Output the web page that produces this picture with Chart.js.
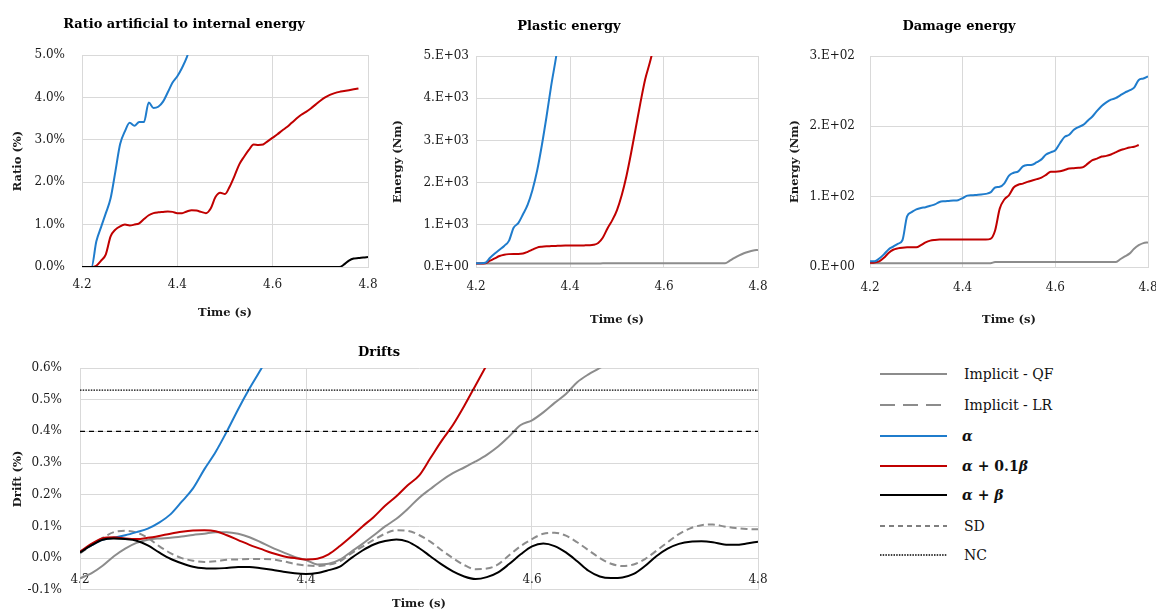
<!DOCTYPE html>
<html>
<head>
<meta charset="utf-8">
<script src="https://cdn.jsdelivr.net/npm/chart.js@4.4.1/dist/chart.umd.min.js"></script>
<style>
  html, body { margin: 0; padding: 0; background: #fff; width: 1156px; height: 610px; overflow: hidden; }
  body { position: relative; }
  canvas { position: absolute; }
  .leg-row { position: absolute; left: 880px; height: 20px; width: 260px; }
  .leg-row svg { position: absolute; left: 0; top: 0; }
  .leg-text { position: absolute; left: 84px; top: 0; line-height: 20px; font-family: 'DejaVu Serif', serif; font-size: 14px; color: #111; white-space: nowrap; }
  .leg-text.math { left: 82px; font-weight: bold; }
</style>
</head>
<body>
<canvas id="ratioChart"></canvas>
<canvas id="plasticChart"></canvas>
<canvas id="damageChart"></canvas>
<canvas id="driftChart"></canvas>
<div id="legend"></div>

<script>
// --- data: time axis (s) ---
const times = [4.20, 4.21, 4.22, 4.23, 4.24, 4.25, 4.26, 4.27, 4.28, 4.29,
  4.30, 4.31, 4.32, 4.33, 4.34, 4.35, 4.36, 4.37, 4.38, 4.39,
  4.40, 4.41, 4.42, 4.43, 4.44, 4.45, 4.46, 4.47, 4.48, 4.49,
  4.50, 4.51, 4.52, 4.53, 4.54, 4.55, 4.56, 4.57, 4.58, 4.59,
  4.60, 4.61, 4.62, 4.63, 4.64, 4.65, 4.66, 4.67, 4.68, 4.69,
  4.70, 4.71, 4.72, 4.73, 4.74, 4.75, 4.76, 4.77, 4.78, 4.79, 4.80];

const xTickValues = [4.2, 4.4, 4.6, 4.8];
const xTickLabels = ['4.2', '4.4', '4.6', '4.8'];

// Ratio artificial to internal energy (%)
const ratioAlpha = [0, 0, 0, 0.6, 0.94, 1.27, 1.62, 2.25, 2.9, 3.2,
  3.4, 3.33, 3.42, 3.42, 3.88, 3.75, 3.78, 3.9, 4.12, 4.35,
  4.5, 4.7, 4.95, 5.3, 5.6];
const ratioAlphaBeta01 = [0, 0, 0, 0.03, 0.15, 0.3, 0.72, 0.88, 0.96, 1.0,
  0.98, 1.0, 1.03, 1.13, 1.22, 1.27, 1.29, 1.3, 1.31, 1.3,
  1.27, 1.27, 1.31, 1.34, 1.33, 1.3, 1.27, 1.38, 1.65, 1.75,
  1.72, 1.9, 2.15, 2.42, 2.6, 2.76, 2.89, 2.88, 2.89, 2.97,
  3.05, 3.13, 3.22, 3.3, 3.4, 3.5, 3.59, 3.66, 3.74, 3.83,
  3.92, 4.0, 4.06, 4.1, 4.13, 4.15, 4.17, 4.19, 4.21];
const ratioAlphaBeta = [0, 0, 0, 0, 0, 0, 0, 0, 0, 0,
  0, 0, 0, 0, 0, 0, 0, 0, 0, 0,
  0, 0, 0, 0, 0, 0, 0, 0, 0, 0,
  0, 0, 0, 0, 0, 0, 0, 0, 0, 0,
  0, 0, 0, 0, 0, 0, 0, 0, 0, 0,
  0, 0, 0, 0, 0, 0.06, 0.15, 0.2, 0.21, 0.225, 0.235];
const ratioTickValues = [0, 1, 2, 3, 4, 5];
const ratioTickLabels = ['0.0%', '1.0%', '2.0%', '3.0%', '4.0%', '5.0%'];

// Plastic energy (Nm)
const plasticAlpha = [90, 90, 100, 220, 320, 410, 500, 620, 930, 1040,
  1250, 1480, 1820, 2280, 2880, 3560, 4300, 4950, 5700];
const plasticAlphaBeta01 = [85, 85, 90, 150, 205, 260, 290, 305, 310, 310,
  320, 360, 410, 460, 480, 490, 495, 500, 505, 508,
  510, 510, 510, 512, 515, 525, 570, 700, 920, 1110,
  1350, 1700, 2150, 2700, 3300, 3900, 4450, 4850, 5300];
const plasticQF = [80, 80, 80, 80, 80, 80, 80, 80, 80, 80,
  80, 80, 80, 80, 80, 80, 80, 80, 80, 80,
  80, 80, 80, 80, 80, 80, 80, 88, 88, 88,
  88, 88, 88, 88, 88, 88, 88, 88, 88, 88,
  88, 88, 88, 88, 88, 88, 88, 88, 88, 88,
  88, 88, 88, 88, 150, 215, 275, 325, 362, 390, 405];
const plasticTickValues = [0, 1000, 2000, 3000, 4000, 5000];
const plasticTickLabels = ['0.E+00', '1.E+03', '2.E+03', '3.E+03', '4.E+03', '5.E+03'];

// Damage energy (Nm)
const damageAlpha = [8, 8, 12, 18, 25, 29, 33, 38, 72, 78,
  82, 84, 85, 87, 89, 92.5, 93.5, 94, 94.5, 95,
  98, 101.5, 102, 102.5, 103, 104, 106, 113, 114, 119,
  130, 134, 136, 143, 145, 145.5, 149, 153, 160, 163,
  166, 176, 185, 188, 195, 199, 202, 208, 214, 222,
  229, 234, 238, 240, 244, 248, 251, 255, 266, 268, 271];
const damageAlphaBeta01 = [6, 6.5, 8, 13, 20, 24.5, 26.5, 27.5, 28, 28,
  28, 31, 35, 37.5, 38.5, 39, 39, 39, 39, 39,
  39, 39, 39, 39, 39, 39, 40, 52, 83, 96,
  102, 113, 117, 118.5, 121, 123, 125, 127, 131, 135.5,
  135.5, 136, 138, 140, 140.5, 141, 142, 147, 152, 154,
  157, 158, 160, 163, 166, 168, 170, 171, 173.5];
const damageQF = [5.5, 5.5, 5.5, 5.5, 5.5, 5.5, 5.5, 5.5, 5.5, 5.5,
  5.5, 5.5, 5.5, 5.5, 5.5, 5.5, 5.5, 5.5, 5.5, 5.5,
  5.5, 5.5, 5.5, 5.5, 5.5, 5.5, 5.5, 7, 7, 7,
  7, 7, 7, 7, 7, 7, 7, 7, 7, 7,
  7, 7, 7, 7, 7, 7, 7, 7, 7, 7,
  7, 7, 7, 7, 11, 15, 19, 26, 31, 34, 35];
const damageTickValues = [0, 100, 200, 300];
const damageTickLabels = ['0.E+00', '1.E+02', '2.E+02', '3.E+02'];

// Drifts (%)
const driftQF = [-0.064, -0.048, -0.024, 0.006, 0.03, 0.048, 0.058, 0.062, 0.064, 0.068,
  0.073, 0.077, 0.082, 0.082, 0.077, 0.066, 0.05, 0.033, 0.018, 0.004,
  -0.006, -0.02, -0.018, -0.005, 0.02, 0.045, 0.072, 0.1, 0.124, 0.155,
  0.19, 0.218, 0.245, 0.268, 0.286, 0.305, 0.326, 0.352, 0.385, 0.42,
  0.435, 0.46, 0.49, 0.518, 0.555, 0.58, 0.60, 0.625];
const driftLR = [0.015, 0.04, 0.064, 0.082, 0.086, 0.081, 0.064, 0.038, 0.016, 0.0,
  -0.008, -0.012, -0.01, -0.005, -0.004, -0.003, -0.003, -0.004, -0.01, -0.018,
  -0.023, -0.025, -0.021, -0.01, 0.015, 0.036, 0.058, 0.077, 0.088, 0.086,
  0.073, 0.052, 0.025, 0.0, -0.022, -0.035, -0.033, -0.02, 0.01, 0.038,
  0.06, 0.077, 0.08, 0.071, 0.05, 0.025, 0.0, -0.018, -0.025, -0.02,
  -0.003, 0.023, 0.05, 0.076, 0.094, 0.104, 0.106, 0.1, 0.095, 0.092, 0.091];
const driftAlpha = [0.02, 0.04, 0.058, 0.064, 0.072, 0.082, 0.093, 0.112, 0.138, 0.178,
  0.22, 0.28, 0.335, 0.40, 0.47, 0.535, 0.595, 0.66];
const driftAlphaBeta01 = [0.02, 0.045, 0.063, 0.066, 0.062, 0.06, 0.064, 0.07, 0.077, 0.083,
  0.087, 0.088, 0.085, 0.072, 0.057, 0.042, 0.029, 0.016, 0.006, 0.0,
  -0.004, -0.002, 0.012, 0.038, 0.068, 0.1, 0.13, 0.165, 0.195, 0.23,
  0.26, 0.315, 0.37, 0.42, 0.48, 0.545, 0.61];
const driftAlphaBeta = [0.018, 0.04, 0.058, 0.062, 0.06, 0.055, 0.04, 0.018, -0.002, -0.016,
  -0.027, -0.032, -0.033, -0.031, -0.028, -0.028, -0.032, -0.037, -0.043, -0.048,
  -0.05, -0.047, -0.038, -0.027, 0.0, 0.024, 0.043, 0.054, 0.059, 0.052,
  0.032, 0.006, -0.02, -0.042, -0.058, -0.066, -0.06, -0.045, -0.018, 0.012,
  0.037, 0.046, 0.038, 0.018, -0.01, -0.04, -0.058, -0.063, -0.061, -0.05,
  -0.025, 0.006, 0.03, 0.045, 0.052, 0.053, 0.05, 0.043, 0.042, 0.046, 0.052];
const limitTimes = [4.2, 4.8];
const limitSD = [0.4, 0.4];
const limitNC = [0.53, 0.53];
const driftTickValues = [-0.1, 0, 0.1, 0.2, 0.3, 0.4, 0.5, 0.6];
const driftTickLabels = ['-0.1%', '0.0%', '0.1%', '0.2%', '0.3%', '0.4%', '0.5%', '0.6%'];

// --- styles ---
const COLORS = { qf: '#8c8c8c', lr: '#8c8c8c', alpha: '#1f7ccc', alpha01: '#c00000', alphaBeta: '#000000', limit: '#000000' };
const GRID = '#d9d9d9';
const TEXT = '#1a1a1a';
const FONT = "'DejaVu Serif', serif";

Chart.defaults.font.family = FONT;
Chart.defaults.color = TEXT;

function pts(values, xs) {
  const src = xs || times;
  return values.map((v, i) => ({ x: src[i], y: v }));
}

function series(label, values, color, extra) {
  return Object.assign({
    label,
    data: pts(values),
    borderColor: color,
    backgroundColor: color,
    borderWidth: 2,
    pointRadius: 0,
    cubicInterpolationMode: 'monotone',
    fill: false
  }, extra || {});
}

// 配置を固定するため軸サイズは afterFit で上書き
function makeChart(cfg) {
  const canvas = document.getElementById(cfg.id);
  canvas.width = cfg.w;
  canvas.height = cfg.h;
  canvas.style.left = cfg.left + 'px';
  canvas.style.top = cfg.top + 'px';

  const xScale = {
    type: 'linear',
    min: 4.2,
    max: 4.8,
    afterBuildTicks: s => { s.ticks = xTickValues.map(v => ({ value: v })); },
    afterFit: s => { s.height = cfg.xHeight; },
    grid: { color: GRID, lineWidth: 1, drawTicks: false },
    border: { display: true, color: GRID },
    ticks: { font: { size: 12 }, padding: cfg.xTickPad, maxRotation: 0, autoSkip: false, color: TEXT,
      callback: (v, i) => xTickLabels[i] },
    title: { display: true, text: 'Time (s)', font: { size: 11.5, weight: 'bold' }, color: TEXT,
      padding: { top: 0, bottom: cfg.xTitlePad } }
  };
  if (cfg.xPosition) xScale.position = cfg.xPosition;

  return new Chart(canvas.getContext('2d'), {
    type: 'line',
    data: { datasets: cfg.datasets },
    options: {
      responsive: false,
      animation: false,
      devicePixelRatio: 1,
      layout: { padding: { left: 0, right: cfg.padRight, top: 0, bottom: cfg.padBottom || 0 } },
      plugins: {
        legend: { display: false },
        tooltip: { enabled: false },
        title: {
          display: true, text: cfg.title, color: '#000',
          font: { size: 13, weight: 'bold' },
          padding: { top: cfg.titlePadTop, bottom: cfg.titlePadBottom }
        }
      },
      scales: {
        x: xScale,
        y: {
          type: 'linear',
          min: cfg.yMin,
          max: cfg.yMax,
          afterBuildTicks: s => { s.ticks = cfg.yTicks.map(v => ({ value: v })); },
          afterFit: s => { s.width = cfg.yWidth; },
          grid: { color: GRID, lineWidth: 1, drawTicks: false },
          border: { display: true, color: GRID },
          ticks: { font: { size: 12 }, padding: cfg.yTickPad, color: TEXT,
            callback: (v, i) => cfg.yLabels[i] },
          title: { display: true, text: cfg.yTitle, font: { size: 11.5, weight: 'bold' }, color: TEXT,
            padding: { top: cfg.yTitlePad, bottom: 0 } }
        }
      }
    }
  });
}

makeChart({
  id: 'ratioChart', left: 0, top: 0, w: 420, h: 330, padRight: 52,
  title: 'Ratio artificial to internal energy', titlePadTop: 17, titlePadBottom: 22.4,
  yWidth: 82, yTickPad: 17, yTitle: 'Ratio (%)', yTitlePad: 11,
  xHeight: 63, xTickPad: 11, xTitlePad: 10,
  yMin: 0, yMax: 5, yTicks: ratioTickValues, yLabels: ratioTickLabels,
  datasets: [
    series('α + β', ratioAlphaBeta, COLORS.alphaBeta),
    series('α + 0.1β', ratioAlphaBeta01, COLORS.alpha01),
    series('α', ratioAlpha, COLORS.alpha)
  ]
});

makeChart({
  id: 'plasticChart', left: 380, top: 0, w: 448, h: 330, padRight: 70,
  title: 'Plastic energy', titlePadTop: 19, titlePadBottom: 21.4,
  yWidth: 96, yTickPad: 7, yTitle: 'Energy (Nm)', yTitlePad: 11,
  xHeight: 63, xTickPad: 13, xTitlePad: 3,
  yMin: 0, yMax: 5000, yTicks: plasticTickValues, yLabels: plasticTickLabels,
  datasets: [
    series('α', plasticAlpha, COLORS.alpha),
    series('α + 0.1β', plasticAlphaBeta01, COLORS.alpha01),
    series('Implicit - QF', plasticQF, COLORS.qf)
  ]
});

makeChart({
  id: 'damageChart', left: 770, top: 0, w: 473, h: 330, padRight: 95,
  title: 'Damage energy', titlePadTop: 19, titlePadBottom: 21.4,
  yWidth: 100, yTickPad: 15, yTitle: 'Energy (Nm)', yTitlePad: 18,
  xHeight: 63, xTickPad: 14, xTitlePad: 3,
  yMin: 0, yMax: 300, yTicks: damageTickValues, yLabels: damageTickLabels,
  datasets: [
    series('α', damageAlpha, COLORS.alpha),
    series('α + 0.1β', damageAlphaBeta01, COLORS.alpha01),
    series('Implicit - QF', damageQF, COLORS.qf)
  ]
});

const driftDatasets = [
  series('NC', limitNC, COLORS.limit, { data: pts(limitNC, limitTimes), borderWidth: 1.3, borderDash: [1.5, 1.2], cubicInterpolationMode: 'default' }),
  series('SD', limitSD, COLORS.limit, { data: pts(limitSD, limitTimes), borderWidth: 1.2, borderDash: [5, 4], cubicInterpolationMode: 'default' }),
  series('α + β', driftAlphaBeta, COLORS.alphaBeta),
  series('α + 0.1β', driftAlphaBeta01, COLORS.alpha01),
  series('α', driftAlpha, COLORS.alpha),
  series('Implicit - LR', driftLR, COLORS.lr, { borderDash: [7, 4] }),
  series('Implicit - QF', driftQF, COLORS.qf)
];

// x 軸は 0% の位置に置く（Excel と同じ交差位置）
makeChart({
  id: 'driftChart', left: 0, top: 330, w: 800, h: 285, padRight: 42, padBottom: 0,
  title: 'Drifts', titlePadTop: 15, titlePadBottom: 7.4,
  yWidth: 80, yTickPad: 18, yTitle: 'Drift (%)', yTitlePad: 11,
  xHeight: 60, xTickPad: 15, xTitlePad: 7, xPosition: { y: 0 },
  yMin: -0.1, yMax: 0.6, yTicks: driftTickValues, yLabels: driftTickLabels,
  datasets: driftDatasets
});

// --- legend (HTML) ---
const legendItems = [
  { text: 'Implicit - QF', color: COLORS.qf, width: 2, dash: '' },
  { text: 'Implicit - LR', color: COLORS.lr, width: 2, dash: '15 8' },
  { html: '<i>α</i>', color: COLORS.alpha, width: 2, dash: '' },
  { html: '<i>α</i> + 0.1<i>β</i>', color: COLORS.alpha01, width: 2, dash: '' },
  { html: '<i>α</i> + <i>β</i>', color: COLORS.alphaBeta, width: 2, dash: '' },
  { text: 'SD', color: COLORS.limit, width: 1.2, dash: '5 4' },
  { text: 'NC', color: COLORS.limit, width: 1.3, dash: '1.5 1.2' }
];
const legendRowsY = [374, 405, 436, 466, 495, 526, 555];

const legend = document.getElementById('legend');
legendItems.forEach((item, i) => {
  const row = document.createElement('div');
  row.className = 'leg-row';
  row.style.top = (legendRowsY[i] - 10) + 'px';
  row.innerHTML =
    `<svg width="70" height="20"><line x1="0" y1="10" x2="67" y2="10" stroke="${item.color}" stroke-width="${item.width}" stroke-dasharray="${item.dash}"/></svg>` +
    (item.html
      ? `<span class="leg-text math">${item.html}</span>`
      : `<span class="leg-text">${item.text}</span>`);
  legend.appendChild(row);
});
</script>
</body>
</html>
